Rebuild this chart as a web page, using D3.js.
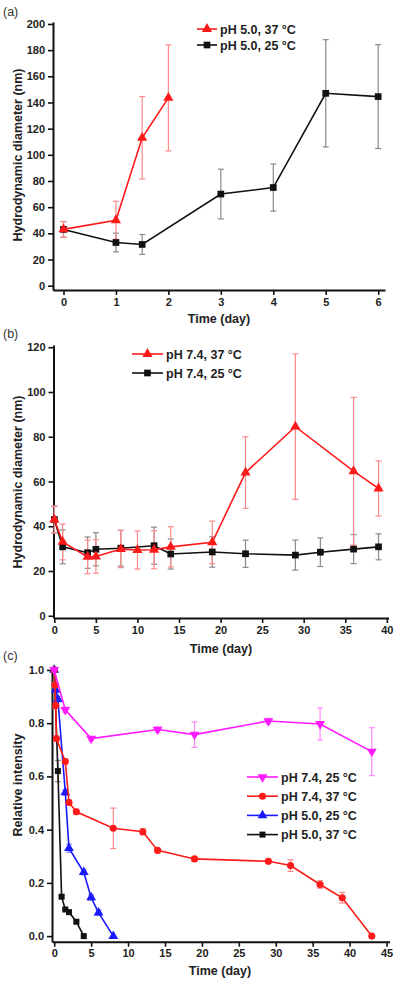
<!DOCTYPE html>
<html><head><meta charset="utf-8">
<script src="https://cdn.jsdelivr.net/npm/d3@7"></script>
<style>html,body{margin:0;padding:0;background:#fff;}svg{display:block;font-family:"Liberation Sans",Arial,sans-serif;}</style>
</head><body>
<svg id="c" width="400" height="984"></svg>
<script>
// ---------- Panel (a): pH 5.0 ----------
const aTimeRed = [0, 1, 1.5, 2];
const aSizeRed = [43, 50, 113, 143.5];
const aErrRed = [6, 14.5, 31.5, 40.5];
const aTimeBlack = [0, 1, 1.5, 3, 4, 5, 6];
const aSizeBlack = [43, 33, 31.5, 70, 75, 147, 144.5];
const aErrBlack = [6, 7.2, 7.6, 19, 18, 41, 39.7];
const aXTicks = [0, 1, 2, 3, 4, 5, 6];
const aYTicks = [0, 20, 40, 60, 80, 100, 120, 140, 160, 180, 200];
const aLegend = ["pH 5.0, 37 °C", "pH 5.0, 25 °C"];

// ---------- Panel (b): pH 7.4 ----------
const bTimeRed = [0, 1, 4, 5, 8, 10, 12, 14, 19, 23, 29, 36, 39];
const bSizeRed = [43, 33, 26.3, 26.5, 29.8, 29.4, 29.5, 30.8, 32.8, 64, 84.5, 64.6, 56.9];
const bErrRed = [6, 8, 7.5, 7.5, 8.3, 8.5, 8.5, 9, 9.5, 16, 32.5, 33, 12.3];
const bTimeBlack = [0, 1, 4, 5, 8, 12, 14, 19, 23, 29, 32, 36, 39];
const bSizeBlack = [43, 30.8, 28.2, 29.7, 30.2, 31.3, 27.6, 28.5, 27.7, 27.1, 28.4, 29.8, 30.8];
const bErrBlack = [6, 7.6, 7, 7.4, 8, 8.3, 6.7, 6.8, 6.1, 6.7, 6.4, 6.5, 5.8];
const bXTicks = [0, 5, 10, 15, 20, 25, 30, 35, 40];
const bYTicks = [0, 20, 40, 60, 80, 100, 120];
const bLegend = ["pH 7.4, 37 °C", "pH 7.4, 25 °C"];

// ---------- Panel (c): relative intensity ----------
const cTimeMagenta = [0, 1.5, 5, 14, 19, 29, 36, 43];
const cIntMagenta = [1.0, 0.85, 0.742, 0.776, 0.757, 0.808, 0.797, 0.693];
const cErrMagenta = [0, 0.01, 0.008, 0.01, 0.048, 0.01, 0.06, 0.09];
const cTimeRed = [0, 0.1, 0.2, 0.3, 1.5, 2, 3, 8, 12, 14, 19, 29, 32, 36, 39, 43];
const cIntRed = [1.0, 0.943, 0.866, 0.742, 0.656, 0.502, 0.467, 0.405, 0.392, 0.322, 0.29, 0.281, 0.265, 0.194, 0.144, 0.0];
const cErrRed = [0, 0.01, 0.01, 0.01, 0.01, 0.01, 0.01, 0.076, 0.012, 0.008, 0.008, 0.008, 0.022, 0.014, 0.02, 0.0];
const cTimeBlue = [0, 0.2, 0.5, 1.5, 2, 4, 5, 6, 8];
const cIntBlue = [1.0, 0.925, 0.89, 0.54, 0.33, 0.24, 0.145, 0.088, 0.0];
const cErrBlue = [0, 0.01, 0.01, 0.01, 0.015, 0.01, 0.01, 0.01, 0.0];
const cTimeBlack = [0, 0.5, 1, 1.5, 2, 3, 4];
const cIntBlack = [1.0, 0.62, 0.148, 0.1, 0.09, 0.054, 0.0];
const cErrBlack = [0, 0.04, 0.005, 0.005, 0.005, 0.005, 0.0];
const cXTicks = [0, 5, 10, 15, 20, 25, 30, 35, 40, 45];
const cYTicks = [0, 0.2, 0.4, 0.6, 0.8, 1.0];
const cLegend = ["pH 7.4, 25 °C", "pH 7.4, 37 °C", "pH 5.0, 25 °C", "pH 5.0, 37 °C"];

const zip = (xs, ys, es) => xs.map((x, i) => ({x, y: ys[i], e: es[i]}));

const svg = d3.select("#c");
const RED = "#ff1a1a", BLACK = "#111", MAG = "#ff1aff", BLUE = "#1a1aff";
const ERRC = {[RED]: "#ff8a8a", [BLACK]: "#8a8a8a", [MAG]: "#ff8aff", [BLUE]: "#8a8aff"};

function symbolPath(kind, size) {
  if (kind === "square") return d3.symbol(d3.symbolSquare, size)();
  if (kind === "circle") return d3.symbol(d3.symbolCircle, size)();
  return d3.symbol(d3.symbolTriangle, size)();
}
function marker(g, kind, color, x, y, size) {
  const p = g.append("path").attr("d", symbolPath(kind, size)).attr("fill", color);
  if (kind === "down") p.attr("transform", `translate(${x},${y}) rotate(180)`);
  else p.attr("transform", `translate(${x},${y})`);
}

function panel(cfg) {
  const g = svg.append("g");
  const x = d3.scaleLinear().domain(cfg.xDom).range(cfg.xRange);
  const y = d3.scaleLinear().domain(cfg.yDom).range(cfg.yRange);

  const xa = g.append("g").attr("transform", `translate(0,${cfg.yRange[0]})`)
    .call(d3.axisBottom(x).tickValues(cfg.xTicks).tickSize(5).tickSizeOuter(0).tickPadding(3).tickFormat(cfg.xFmt || d3.format("d")));
  const ya = g.append("g").attr("transform", `translate(${cfg.xRange[0]},0)`)
    .call(d3.axisLeft(y).tickValues(cfg.yTicks).tickSize(5).tickSizeOuter(0).tickPadding(3).tickFormat(cfg.yFmt || d3.format("d")));
  [xa, ya].forEach(a => {
    a.selectAll("path.domain").attr("stroke", "#111").attr("stroke-width", 2);
    a.selectAll(".tick line").attr("stroke", "#111").attr("stroke-width", 1.6);
    a.selectAll(".tick text").attr("fill", "#222").attr("font-size", 11).attr("font-weight", "bold");
  });

  // series
  cfg.series.forEach(s => {
    const ec = ERRC[s.color];
    s.data.forEach(d => {
      if (!d.e) return;
      const px = x(d.x), y1 = y(d.y - d.e), y2 = y(d.y + d.e);
      g.append("line").attr("x1", px).attr("x2", px).attr("y1", y1).attr("y2", y2).attr("stroke", ec).attr("stroke-width", 1.2);
      [y1, y2].forEach(yy => g.append("line").attr("x1", px - 3).attr("x2", px + 3).attr("y1", yy).attr("y2", yy).attr("stroke", ec).attr("stroke-width", 1.2));
    });
  });
  cfg.series.forEach(s => {
    g.append("path").datum(s.data)
      .attr("d", d3.line().x(d => x(d.x)).y(d => y(d.y)))
      .attr("fill", "none").attr("stroke", s.color).attr("stroke-width", 1.6);
    s.data.forEach(d => marker(g, s.kind, s.color, x(d.x), y(d.y), s.size));
  });

  // legend
  const L = cfg.legend;
  cfg.legendSeries.forEach((s, i) => {
    const ly = L.y0 + i * L.dy;
    g.append("line").attr("x1", L.x0).attr("x2", L.x1).attr("y1", ly).attr("y2", ly).attr("stroke", s.color).attr("stroke-width", 1.6);
    marker(g, s.kind, s.color, (L.x0 + L.x1) / 2, ly, s.size);
    g.append("text").attr("x", L.x1 + 3).attr("y", ly).attr("dy", "0.36em")
      .attr("font-size", 12.5).attr("font-weight", "bold").attr("fill", "#222").text(s.label);
  });

  // axis titles
  g.append("text").attr("x", cfg.xTitle[0]).attr("y", cfg.xTitle[1]).attr("text-anchor", "middle").attr("dy", "0.36em")
    .attr("font-size", 12.5).attr("font-weight", "bold").attr("fill", "#222").text("Time (day)");
  g.append("text").attr("transform", `translate(${cfg.yTitle[0]},${cfg.yTitle[1]}) rotate(-90)`).attr("text-anchor", "middle").attr("dy", "0.36em")
    .attr("font-size", 12.5).attr("font-weight", "bold").attr("fill", "#222").text(cfg.yLabel);
  g.append("text").attr("x", 3).attr("y", cfg.tag[1]).attr("dy", "0.36em")
    .attr("font-size", 12.5).attr("fill", "#333").text(cfg.tag[0]);
}

// Panel (a)
const aRed = {data: zip(aTimeRed, aSizeRed, aErrRed), color: RED, kind: "tri", size: 45, label: aLegend[0]};
const aBlack = {data: zip(aTimeBlack, aSizeBlack, aErrBlack), color: BLACK, kind: "square", size: 45, label: aLegend[1]};
panel({
  xDom: [-0.2, 6.13], xRange: [53, 385], yDom: [-3.3, 201.5], yRange: [290, 22],
  xTicks: aXTicks, yTicks: aYTicks,
  series: [aBlack, aRed], legendSeries: [aRed, aBlack],
  legend: {x0: 197, x1: 217, y0: 29, dy: 16},
  xTitle: [219, 318], yTitle: [17, 155], yLabel: "Hydrodynamic diameter (nm)", tag: ["(a)", 11]
});

// Panel (b)
const bRed = {data: zip(bTimeRed, bSizeRed, bErrRed), color: RED, kind: "tri", size: 45, label: bLegend[0]};
const bBlack = {data: zip(bTimeBlack, bSizeBlack, bErrBlack), color: BLACK, kind: "square", size: 45, label: bLegend[1]};
panel({
  xDom: [-0.1, 40.2], xRange: [53.5, 388.5], yDom: [-1.0, 121], yRange: [618, 345],
  xTicks: bXTicks, yTicks: bYTicks,
  series: [bBlack, bRed], legendSeries: [bRed, bBlack],
  legend: {x0: 132, x1: 163, y0: 354, dy: 19},
  xTitle: [221, 648], yTitle: [17, 482], yLabel: "Hydrodynamic diameter (nm)", tag: ["(b)", 333]
});

// Panel (c)
const cMag = {data: zip(cTimeMagenta, cIntMagenta, cErrMagenta), color: MAG, kind: "down", size: 42, label: cLegend[0]};
const cRed = {data: zip(cTimeRed, cIntRed, cErrRed), color: RED, kind: "circle", size: 40, label: cLegend[1]};
const cBlue = {data: zip(cTimeBlue, cIntBlue, cErrBlue), color: BLUE, kind: "tri", size: 42, label: cLegend[2]};
const cBlack = {data: zip(cTimeBlack, cIntBlack, cErrBlack), color: BLACK, kind: "square", size: 36, label: cLegend[3]};
panel({
  xDom: [-0.3, 45.4], xRange: [52, 389.5], yDom: [-0.021, 1.011], yRange: [941.7, 667],
  xTicks: cXTicks, yTicks: cYTicks, yFmt: d3.format(".1f"),
  series: [cBlack, cBlue, cRed, cMag], legendSeries: [cMag, cRed, cBlue, cBlack],
  legend: {x0: 247, x1: 278, y0: 777, dy: 19.2},
  xTitle: [220, 970], yTitle: [17, 785], yLabel: "Relative intensity", tag: ["(c)", 655]
});
</script>
</body></html>
